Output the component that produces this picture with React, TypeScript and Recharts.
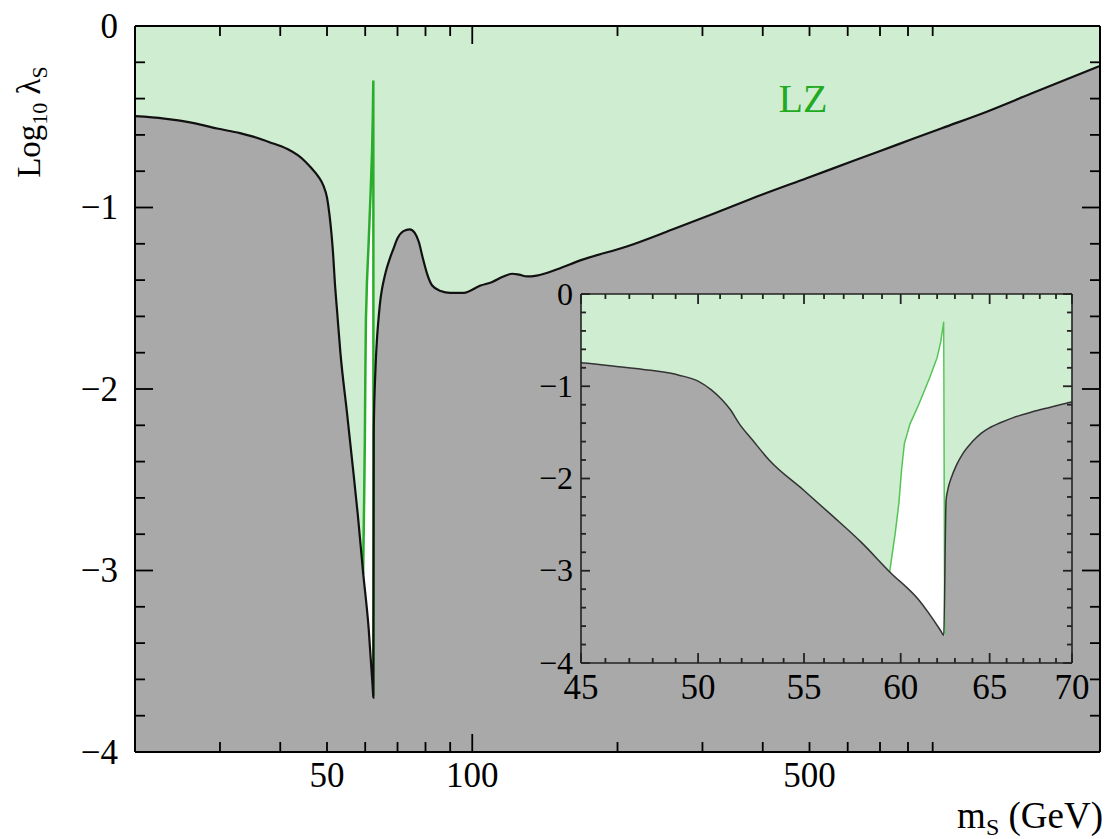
import React from 'react';
import { ComposedChart, Area, Line, XAxis, YAxis, CartesianGrid } from 'recharts';

// ---- data ----
// boundary curve (black): mass in GeV, log10 lambda_S
const curveMass = [20, 23, 26.5, 29.6, 33, 35, 38, 41.4, 43.5, 45, 46.3, 47.9, 49.15, 50, 50.6, 51.1, 51.46, 51.9, 52.5, 53.3, 55, 56.4, 57.9, 59.4, 61.0, 62.2, 62.37, 62.5, 62.6, 62.8, 63.1, 63.45, 64, 64.5, 65, 65.7, 66.4, 67.5, 68.6, 70, 72, 74.2, 76, 77.5, 79, 80.5, 82.6, 86, 90, 96, 104, 110, 116, 121, 125, 130, 136, 150, 168, 209, 259, 321, 398, 493, 611, 758, 940, 1165, 1445, 2000];
const curveLambda = [-0.497, -0.51, -0.535, -0.565, -0.59, -0.608, -0.64, -0.678, -0.712, -0.745, -0.78, -0.827, -0.88, -0.945, -1.04, -1.15, -1.25, -1.41, -1.58, -1.8, -2.13, -2.4, -2.69, -3.01, -3.32, -3.65, -3.7, -2.24, -2.12, -1.99, -1.85, -1.73, -1.6, -1.51, -1.45, -1.39, -1.34, -1.28, -1.23, -1.17, -1.13, -1.12, -1.14, -1.19, -1.28, -1.36, -1.43, -1.46, -1.47, -1.47, -1.43, -1.41, -1.38, -1.365, -1.37, -1.38, -1.375, -1.34, -1.29, -1.215, -1.123, -1.028, -0.93, -0.839, -0.747, -0.655, -0.563, -0.472, -0.371, -0.22];

// LZ line (green)
const lzMass = [59.4, 59.7, 59.9, 60.05, 60.2, 60.5, 61.0, 61.6, 62.0, 62.2, 62.37, 62.42];
const lzLambda = [-3.02, -2.6, -2.27, -1.9, -1.62, -1.41, -1.19, -0.9, -0.69, -0.52, -0.3, -3.69];

// white band between boundary and LZ line
const bandMass = [59.4, 59.7, 59.9, 60.05, 60.2, 60.5, 61.0, 61.6, 62.0, 62.2, 62.37, 62.42];
const bandLow = [-3.02, -3.07, -3.11, -3.14, -3.165, -3.22, -3.32, -3.49, -3.6, -3.65, -3.7, -3.7];
const bandHigh = [-3.02, -2.6, -2.27, -1.9, -1.62, -1.41, -1.19, -0.9, -0.69, -0.52, -0.3, -0.3];

// ticks
const mainXTicks = [30, 40, 50, 60, 70, 80, 90, 100, 200, 300, 400, 500, 600, 700, 800, 900];
const mainXLabels = [50, 100, 500];
const mainXMajor = [100];
const yTicks = [0, -0.2, -0.4, -0.6, -0.8, -1, -1.2, -1.4, -1.6, -1.8, -2, -2.2, -2.4, -2.6, -2.8, -3, -3.2, -3.4, -3.6, -3.8, -4];
const insetXTicks = [45, 46, 47, 48, 49, 50, 51, 52, 53, 54, 55, 56, 57, 58, 59, 60, 61, 62, 63, 64, 65, 66, 67, 68, 69, 70];
const insetXLabels = [45, 50, 55, 60, 65, 70];

const curveData = curveMass.map((m, i) => ({ m, v: curveLambda[i] }));
const lzData = lzMass.map((m, i) => ({ m, v: lzLambda[i] }));
const bandData = bandMass.map((m, i) => ({ m, range: [bandLow[i], bandHigh[i]] }));

const GRAY = '#a9a9a9';
const LIGHT = '#cfeed1';
const FONT = "'Liberation Serif', 'DejaVu Serif', serif";

const fmt = (v: number) => (v < 0 ? '\u2212' + Math.abs(v) : String(v));
const isInt = (v: number) => Math.abs(v - Math.round(v)) < 1e-6;

type TickOpts = { side: 'left' | 'right' | 'top' | 'bottom'; major: number; minor: number; isMajor: (v: number) => boolean; label?: (v: number) => boolean; gap?: number; fontSize?: number; stroke?: string };

const makeTick = (o: TickOpts) => (props: any) => {
  const { x, y, payload } = props;
  const v = payload.value as number;
  const len = o.isMajor(v) ? o.major : o.minor;
  const stroke = o.stroke || '#000';
  const fs = o.fontSize || 35;
  let line;
  let txt = null;
  if (o.side === 'left') {
    line = <line x1={x} y1={y} x2={x + len} y2={y} stroke={stroke} strokeWidth={1.8} />;
    if (o.label && o.label(v)) txt = <text x={x - (o.gap || 17)} y={y + fs * 0.33} textAnchor="end" fontSize={fs} fontFamily={FONT} fill="#000">{fmt(v)}</text>;
  } else if (o.side === 'right') {
    line = <line x1={x} y1={y} x2={x - len} y2={y} stroke={stroke} strokeWidth={1.8} />;
  } else if (o.side === 'top') {
    line = <line x1={x} y1={y} x2={x} y2={y + len} stroke={stroke} strokeWidth={1.8} />;
  } else {
    line = <line x1={x} y1={y} x2={x} y2={y - len} stroke={stroke} strokeWidth={1.8} />;
    if (o.label && o.label(v)) txt = <text x={x} y={y + (o.gap || 35)} textAnchor="middle" fontSize={fs} fontFamily={FONT} fill="#000">{fmt(v)}</text>;
  }
  return <g>{line}{txt}</g>;
};

const mainLeft = makeTick({ side: 'left', major: 18, minor: 10, isMajor: isInt, label: isInt, gap: 17, fontSize: 35 });
const mainRight = makeTick({ side: 'right', major: 18, minor: 10, isMajor: isInt });
const mainBottom = makeTick({ side: 'bottom', major: 18, minor: 10, isMajor: (v) => mainXMajor.includes(v), label: (v) => mainXLabels.includes(v), gap: 35, fontSize: 35 });
const mainTop = makeTick({ side: 'top', major: 18, minor: 10, isMajor: (v) => mainXMajor.includes(v) });

const insetLeft = makeTick({ side: 'left', major: 9, minor: 5, isMajor: isInt, label: isInt, gap: 8, fontSize: 32, stroke: '#222' });
const insetRight = makeTick({ side: 'right', major: 9, minor: 5, isMajor: isInt, stroke: '#222' });
const insetBottom = makeTick({ side: 'bottom', major: 10, minor: 5, isMajor: (v) => insetXLabels.includes(v), label: (v) => insetXLabels.includes(v), gap: 36, fontSize: 35, stroke: '#222' });
const insetTop = makeTick({ side: 'top', major: 10, minor: 5, isMajor: (v) => insetXLabels.includes(v), stroke: '#222' });

export default function App() {
  return (
    <div style={{ position: 'absolute', left: 0, top: 0, width: 1111, height: 839, background: '#fff', overflow: 'hidden' }}>
      <div style={{ position: 'absolute', left: 0, top: 0 }}>
        <ComposedChart width={1111} height={839} margin={{ top: 25, right: 10, bottom: 86, left: 134 }}>
          <CartesianGrid horizontal={false} vertical={false} fill={LIGHT} fillOpacity={1} stroke="none" />
          <XAxis xAxisId={0} type="number" dataKey="m" scale="log" domain={[20, 2000]} allowDataOverflow ticks={mainXTicks} interval={0} height={1} tickSize={0} tickMargin={0} tickLine={false} axisLine={{ stroke: '#000', strokeWidth: 2 }} tick={mainBottom} />
          <XAxis xAxisId="top" orientation="top" type="number" dataKey="m" scale="log" domain={[20, 2000]} allowDataOverflow ticks={mainXTicks} interval={0} height={1} tickSize={0} tickMargin={0} tickLine={false} axisLine={{ stroke: '#000', strokeWidth: 2 }} tick={mainTop} />
          <YAxis yAxisId={0} type="number" domain={[-4, 0]} allowDataOverflow ticks={yTicks} interval={0} width={1} tickSize={0} tickMargin={0} tickLine={false} axisLine={{ stroke: '#000', strokeWidth: 2 }} tick={mainLeft} />
          <YAxis yAxisId="right" orientation="right" type="number" domain={[-4, 0]} allowDataOverflow ticks={yTicks} interval={0} width={1} tickSize={0} tickMargin={0} tickLine={false} axisLine={{ stroke: '#000', strokeWidth: 2 }} tick={mainRight} />
          <Area xAxisId={0} yAxisId={0} data={curveData} dataKey="v" type="monotone" baseValue={-4} fill={GRAY} fillOpacity={1} stroke="none" isAnimationActive={false} />
          <Area xAxisId={0} yAxisId={0} data={bandData} dataKey="range" type="monotone" fill="#ffffff" fillOpacity={1} stroke="none" isAnimationActive={false} />
          <Line xAxisId={0} yAxisId={0} data={lzData} dataKey="v" type="linear" stroke="#2aad2a" strokeWidth={2.5} dot={false} isAnimationActive={false} />
          <Line xAxisId={0} yAxisId={0} data={curveData} dataKey="v" type="monotone" stroke="#111" strokeWidth={2.2} dot={false} isAnimationActive={false} />
          <Line xAxisId="top" yAxisId="right" data={curveData} dataKey="v" type="linear" stroke="none" dot={false} isAnimationActive={false} />
        </ComposedChart>
      </div>
      <div style={{ position: 'absolute', left: 520, top: 260 }}>
        <ComposedChart width={590} height={450} margin={{ top: 33, right: 37, bottom: 46, left: 60 }}>
          <CartesianGrid horizontal={false} vertical={false} fill={LIGHT} fillOpacity={1} stroke="none" />
          <XAxis xAxisId={0} type="number" dataKey="m" scale="log" domain={[45, 70]} allowDataOverflow ticks={insetXTicks} interval={0} height={1} tickSize={0} tickMargin={0} tickLine={false} axisLine={{ stroke: '#222', strokeWidth: 1.6 }} tick={insetBottom} />
          <XAxis xAxisId="top" orientation="top" type="number" dataKey="m" scale="log" domain={[45, 70]} allowDataOverflow ticks={insetXTicks} interval={0} height={1} tickSize={0} tickMargin={0} tickLine={false} axisLine={{ stroke: '#222', strokeWidth: 1.6 }} tick={insetTop} />
          <YAxis yAxisId={0} type="number" domain={[-4, 0]} allowDataOverflow ticks={yTicks} interval={0} width={1} tickSize={0} tickMargin={0} tickLine={false} axisLine={{ stroke: '#222', strokeWidth: 1.6 }} tick={insetLeft} />
          <YAxis yAxisId="right" orientation="right" type="number" domain={[-4, 0]} allowDataOverflow ticks={yTicks} interval={0} width={1} tickSize={0} tickMargin={0} tickLine={false} axisLine={{ stroke: '#222', strokeWidth: 1.6 }} tick={insetRight} />
          <Area xAxisId={0} yAxisId={0} data={curveData} dataKey="v" type="monotone" baseValue={-4} fill={GRAY} fillOpacity={1} stroke="none" isAnimationActive={false} />
          <Area xAxisId={0} yAxisId={0} data={bandData} dataKey="range" type="monotone" fill="#ffffff" fillOpacity={1} stroke="none" isAnimationActive={false} />
          <Line xAxisId={0} yAxisId={0} data={lzData} dataKey="v" type="linear" stroke="#55c455" strokeWidth={1.5} dot={false} isAnimationActive={false} />
          <Line xAxisId={0} yAxisId={0} data={curveData} dataKey="v" type="monotone" stroke="#333" strokeWidth={1.5} dot={false} isAnimationActive={false} />
          <Line xAxisId="top" yAxisId="right" data={curveData} dataKey="v" type="linear" stroke="none" dot={false} isAnimationActive={false} />
        </ComposedChart>
      </div>
      <svg width={1111} height={839} style={{ position: 'absolute', left: 0, top: 0, pointerEvents: 'none' }}>
        <text x={803} y={112} textAnchor="middle" fontSize={40} fontFamily={FONT} fill="#22aa22">LZ</text>
        <text transform="translate(40,122) rotate(-90)" textAnchor="middle" fontSize={33} fontFamily={FONT} fill="#000">
          <tspan>Log</tspan>
          <tspan fontSize={22} dy={7}>10</tspan>
          <tspan dy={-7}> λ</tspan>
          <tspan fontSize={22} dy={7}>S</tspan>
        </text>
        <text x={1103} y={828} textAnchor="end" fontSize={37} fontFamily={FONT} fill="#000">
          <tspan>m</tspan>
          <tspan fontSize={24} dy={7}>S</tspan>
          <tspan dy={-7}> (GeV)</tspan>
        </text>
      </svg>
    </div>
  );
}
